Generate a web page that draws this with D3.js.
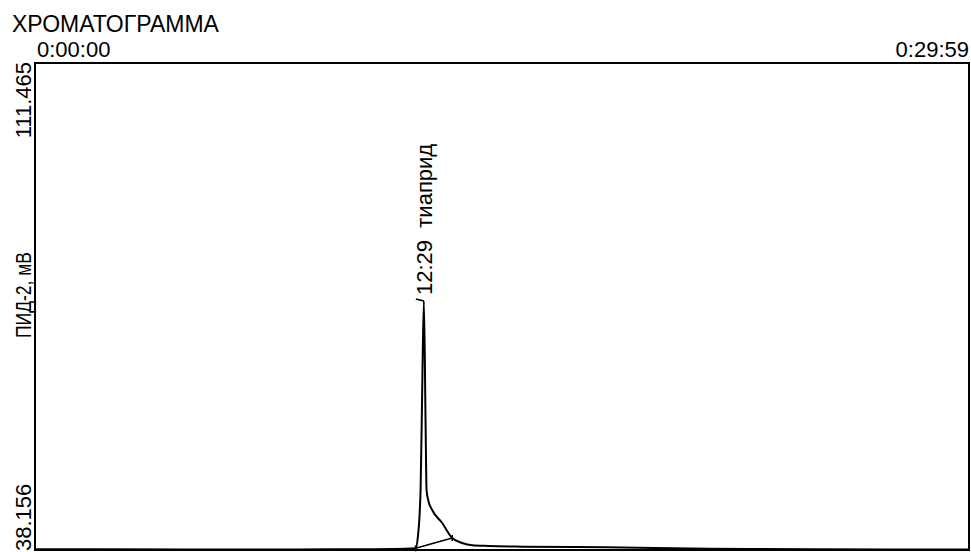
<!DOCTYPE html>
<html>
<head>
<meta charset="utf-8">
<script src="https://cdn.jsdelivr.net/npm/d3@7"></script>
<style>
  html, body { margin: 0; padding: 0; background: #fff; }
  svg { display: block; }
  text { font-family: "Liberation Sans", Arial, sans-serif; font-size: 22px; fill: #000; }
</style>
</head>
<body>
<svg width="971" height="552"></svg>
<script>
// chromatogram data: time in seconds, signal in mV
const TIMES = [0, 120, 300, 500, 650, 733, 737.5, 742.7, 745.8, 749, 752.3, 754.2, 757.3, 765, 784.3, 803.6, 822.8, 842, 874, 939, 1100, 1300, 1500, 1650, 1799];
const SIGNAL = [38.26, 38.26, 38.25, 38.25, 38.27, 38.41, 40.16, 47.19, 62.24, 75.64, 57.27, 47.19, 45.68, 44.18, 42.22, 39.96, 39.21, 38.86, 38.76, 38.66, 38.56, 38.35, 38.28, 38.25, 38.23];

// integration baseline under the peak (start, end)
const BASE_TIMES = [733, 803.6];
const BASE_VALUES = [38.41, 39.96];

const PEAK_TIMES = [749];
const PEAK_VALUES = [75.64];
const PEAK_LABELS = ["12:29  тиаприд"];

const Y_TICKS = [38.156, 111.465];
const X_TICKS = [0, 1799];
const X_TICK_LABELS = ["0:00:00", "0:29:59"];

const TITLE = "ХРОМАТОГРАММА";
const Y_TITLE = "ПИД-2, мВ";

(function () {
  const left = 35, right = 969, top = 63, bottom = 550;

  const x = d3.scaleLinear().domain([X_TICKS[0], X_TICKS[1]]).range([left, right]);
  const y = d3.scaleLinear().domain([Y_TICKS[0], Y_TICKS[1]]).range([bottom, top]);

  const svg = d3.select("svg");

  svg.append("text").attr("x", 12).attr("y", 32)
    .style("font-size", "23px")
    .text(TITLE);

  // frame
  svg.append("rect")
    .attr("x", left).attr("y", top)
    .attr("width", right - left).attr("height", bottom - top)
    .attr("fill", "none").attr("stroke", "#000").attr("stroke-width", 2);

  // time labels above the frame
  svg.selectAll(".xlab")
    .data(X_TICKS)
    .enter()
    .append("text")
    .classed("xlab", true)
    .attr("x", (d, i) => i === 0 ? x(d) + 2 : x(d))
    .attr("y", 57)
    .attr("text-anchor", (d, i) => i === 0 ? "start" : "end")
    .text((d, i) => X_TICK_LABELS[i]);

  // signal range labels, rotated
  svg.selectAll(".ylab")
    .data(Y_TICKS)
    .enter()
    .append("text")
    .classed("ylab", true)
    .attr("transform", (d, i) => `translate(31,${i === 0 ? y(d) + 1 : y(d) - 1}) rotate(-90)`)
    .attr("text-anchor", (d, i) => i === 0 ? "start" : "end")
    .text(d => d3.format(".3f")(d));

  // axis title is squeezed along its length in the original printout
  svg.append("text")
    .attr("transform", "translate(31,295) rotate(-90)")
    .attr("text-anchor", "middle")
    .attr("textLength", 86)
    .attr("lengthAdjust", "spacingAndGlyphs")
    .text(Y_TITLE);

  const points = TIMES.map((t, i) => [t, SIGNAL[i]]);
  const line = d3.line()
    .x(d => x(d[0]))
    .y(d => y(d[1]))
    .curve(d3.curveMonotoneX);

  svg.append("path")
    .datum(points)
    .attr("d", line)
    .attr("fill", "none")
    .attr("stroke", "#000")
    .attr("stroke-width", 2);

  // peak baseline and its end ticks
  const basePts = BASE_TIMES.map((t, i) => [t, BASE_VALUES[i]]);
  svg.append("path")
    .datum(basePts)
    .attr("d", d3.line().x(d => x(d[0])).y(d => y(d[1])))
    .attr("fill", "none")
    .attr("stroke", "#000")
    .attr("stroke-width", 1.5);

  svg.selectAll(".btick")
    .data(basePts)
    .enter()
    .append("line")
    .classed("btick", true)
    .attr("x1", d => x(d[0]))
    .attr("x2", d => x(d[0]))
    .attr("y1", d => y(d[1]) - 3)
    .attr("y2", d => y(d[1]) + 3)
    .attr("stroke", "#000")
    .attr("stroke-width", 1.5);

  // peak labels
  PEAK_TIMES.forEach((t, i) => {
    const px = x(t), py = y(PEAK_VALUES[i]);
    svg.append("line")
      .attr("x1", px - 8).attr("x2", px)
      .attr("y1", py - 2).attr("y2", py)
      .attr("stroke", "#000").attr("stroke-width", 1.5);
    svg.append("text")
      .attr("transform", `translate(${px + 8},${py - 6}) rotate(-90)`)
      .attr("text-anchor", "start")
      .style("white-space", "pre")
      .attr("xml:space", "preserve")
      .text(PEAK_LABELS[i]);
  });
})();
</script>
</body>
</html>
